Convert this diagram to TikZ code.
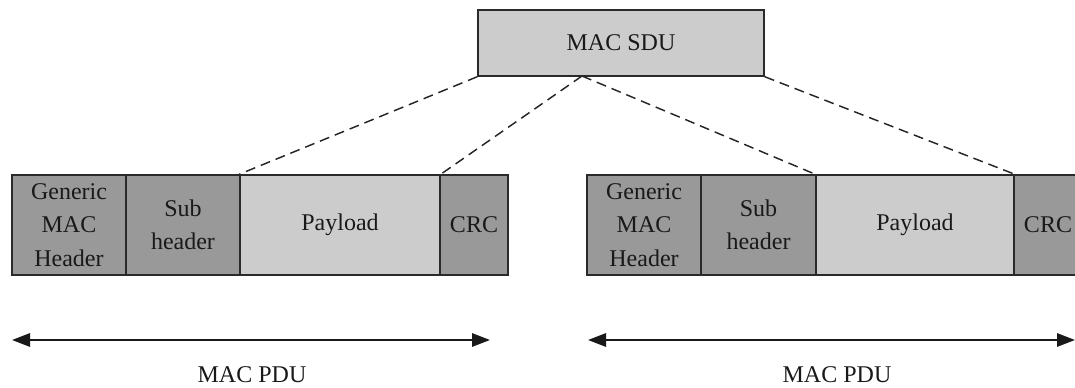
\documentclass[tikz,border=0pt]{standalone}
\usepackage{fontspec}
\setmainfont{Liberation Serif}
\usetikzlibrary{arrows.meta}
\definecolor{hdrgray}{HTML}{999999}
\definecolor{paygray}{HTML}{CCCCCC}
\definecolor{edgegray}{HTML}{2A2A2A}
\begin{document}
\begin{tikzpicture}[x=0.75pt,y=-0.75pt,
  txt/.style={font=\fontsize{18}{25}\selectfont, text=black!90},
  seg/.style={txt, draw=edgegray, line width=1.1pt, minimum height=75pt,
    inner sep=0pt, align=center},
  hdr/.style={seg, fill=hdrgray},
  pay/.style={seg, fill=paygray},
  link/.style={draw=black!85, line width=1.1pt, dash pattern=on 7.5pt off 4.5pt},
  span/.style={draw=black!90, line width=1.5pt,
    {Triangle[length=13.5pt,width=10pt]}-{Triangle[length=13.5pt,width=10pt]}}]
\useasboundingbox (0,0) rectangle (1075,388);
\clip (0,0) rectangle (1075,388);

% service data unit
\node[pay, minimum width=214.5pt, minimum height=49.5pt] (sdu) at (621,43) {MAC SDU};
\coordinate (fork) at (582,76);

% first protocol data unit
\node[hdr, minimum width=85.5pt] (g1) at (69,225) {Generic\\MAC\\Header};
\node[hdr, minimum width=85.5pt] (s1) at (183,225) {Sub\\header};
\node[pay, minimum width=150pt] (p1) at (340,225) {Payload};
\node[hdr, minimum width=51pt] (c1) at (474,225) {CRC};

% second protocol data unit
\node[hdr, minimum width=85.5pt] (g2) at (644,225) {Generic\\MAC\\Header};
\node[hdr, minimum width=86.25pt] (s2) at (758.5,225) {Sub\\header};
\node[pay, minimum width=148.5pt] (p2) at (915,225) {Payload};
\node[hdr, minimum width=51pt] (c2) at (1048,225) {CRC};

% fragmentation of the SDU
\draw[link] (sdu.south west) -- (p1.north west);
\draw[link] (fork) -- (p1.north east);
\draw[link] (fork) -- (p2.north west);
\draw[link] (sdu.south east) -- (p2.north east);

% extent of each PDU
\coordinate (a1) at (12,340);
\coordinate (b1) at (490,340);
\coordinate (a2) at (588,340);
\coordinate (b2) at (1075,340);
\draw[span] (a1) -- (b1);
\draw[span] (a2) -- (b2);
\node[txt] (l1) at (252,375) {MAC PDU};
\node[txt] (l2) at (837,375) {MAC PDU};
\end{tikzpicture}
\end{document}
